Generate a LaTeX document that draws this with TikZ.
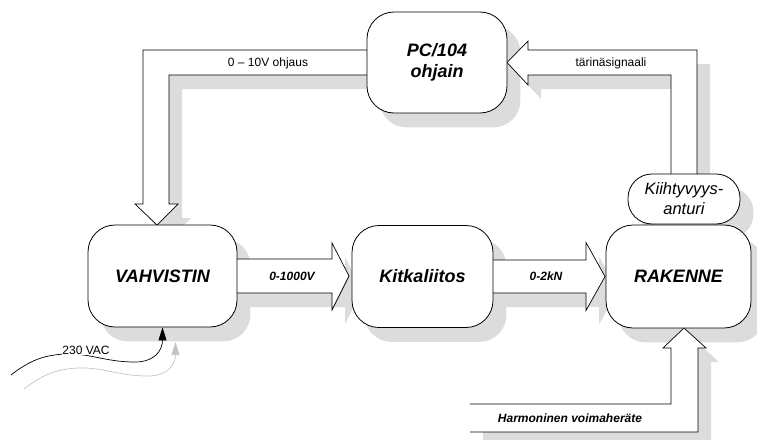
\documentclass[tikz,border=0pt]{standalone}
\usepackage{fontspec}
\setmainfont{Liberation Sans}
\usetikzlibrary{arrows.meta,calc}
\definecolor{shade}{HTML}{DCDCDC}
\definecolor{shadeline}{HTML}{C4C4C4}
\pgfdeclarelayer{bg}
\pgfdeclarelayer{arr}
\pgfsetlayers{bg,arr,main}
\begin{document}
\begin{tikzpicture}[x=1pt,y=-1pt,
  box/.style={draw=black,fill=white,line width=0.8pt,rounded corners=27pt,
    inner sep=0pt,align=center,font=\fontsize{18}{21}\selectfont\bfseries\itshape},
  sensor/.style={draw=black,fill=white,line width=0.8pt,rounded corners=24pt,
    inner sep=0pt,align=center,font=\fontsize{16.5}{20}\selectfont\itshape},
  blockarrow/.style={draw=black,fill=white,line width=0.7pt,line join=miter},
  shadowfill/.style={fill=shade},
  lbl/.style={inner sep=1pt,font=\fontsize{12}{14}\selectfont},
  blbl/.style={inner sep=1pt,font=\fontsize{12}{14}\selectfont\bfseries\itshape},
  feed/.style={line width=0.7pt,-{Triangle[length=13pt,width=8pt]}}
]
\useasboundingbox (0,0) rectangle (757,439);

% boxes
\node[box,minimum width=149pt,minimum height=102pt] (V) at (162.5,276) {VAHVISTIN};
\node[box,minimum width=141pt,minimum height=102pt] (K) at (422.5,276.5) {Kitkaliitos};
\node[box,minimum width=145pt,minimum height=103pt] (R) at (678.5,276.5) {RAKENNE};
\node[box,minimum width=140pt,minimum height=101pt] (P) at (437,62.5) {PC/104\\ohjain};
\node[sensor,minimum width=112pt,minimum height=50pt] (A) at (684,199) {Kiihtyvyys-\\anturi};

% shadows
\begin{pgfonlayer}{bg}
  \foreach \n/\r in {V/27,K/27,R/27,P/27,A/24}{
    \fill[shadowfill,rounded corners=\r pt] ($(\n.south west)+(13,14)$) rectangle ($(\n.north east)+(13,14)$);
  }
  \begin{scope}[shift={(13,14)}]
    \fill[shadowfill] (368,50) -- (143,50) -- (143,204) -- (135,204) -- (157,225) -- (178,204) -- (169,204) -- (169,75) -- (368,75) -- cycle;
    \fill[shadowfill] (671,175) -- (671,75) -- (528,75) -- (528,85) -- (507,62.5) -- (528,41) -- (528,50) -- (697,50) -- (697,175) -- cycle;
    \fill[shadowfill] (470,404) -- (671,404) -- (671,348) -- (663,348) -- (684,328) -- (706,348) -- (698,348) -- (698,432) -- (470,432) -- cycle;
    \fill[shadowfill] (236,259) -- (332,259) -- (332,243) -- (349,276) -- (332,310) -- (332,293) -- (236,293) -- cycle;
    \fill[shadowfill] (492,260) -- (586,260) -- (586,242.5) -- (605,276.5) -- (586,310.5) -- (586,293) -- (492,293) -- cycle;
    \draw[shadeline,line width=0.7pt,-{Triangle[length=13pt,width=8pt,fill=shadeline]}]
      (11,375) .. controls (30,360) and (45,355) .. (65,354) .. controls (90,353) and (105,362) .. (135,362) .. controls (155,362) and (162.5,350) .. (162.5,328);
  \end{scope}
\end{pgfonlayer}

% block arrows
\begin{pgfonlayer}{arr}
  \draw[blockarrow] (368,50) -- (143,50) -- (143,204) -- (135,204) -- (157,225) -- (178,204) -- (169,204) -- (169,75) -- (368,75) -- cycle;
  \draw[blockarrow] (671,175) -- (671,75) -- (528,75) -- (528,85) -- (507,62.5) -- (528,41) -- (528,50) -- (697,50) -- (697,175) -- cycle;
  \fill[white] (470,404) -- (671,404) -- (671,348) -- (663,348) -- (684,328) -- (706,348) -- (698,348) -- (698,432) -- (470,432) -- cycle;
  \draw[blockarrow,fill=none] (470,404) -- (671,404) -- (671,348) -- (663,348) -- (684,328) -- (706,348) -- (698,348) -- (698,432) -- (470,432);
  \draw[blockarrow] (236,259) -- (332,259) -- (332,243) -- (349,276) -- (332,310) -- (332,293) -- (236,293) -- cycle;
  \draw[blockarrow] (492,260) -- (586,260) -- (586,242.5) -- (605,276.5) -- (586,310.5) -- (586,293) -- (492,293) -- cycle;
\end{pgfonlayer}

% supply feed
\coordinate (s0) at (11,375);
\draw[feed] (s0) .. controls (30,360) and (45,355) .. (65,354) .. controls (90,353) and (105,362) .. (135,362) .. controls (155,362) and (162.5,350) .. (V.south);
\node[lbl,fill=white,inner sep=0.5pt] (vac) at (86,350) {230 VAC};

% labels
\node[lbl] (l1) at (268,63) {0 – 10V ohjaus};
\node[lbl] (l2) at (611,63) {tärinäsignaali};
\node[blbl] (l3) at (292,276) {0-1000V};
\node[blbl] (l4) at (546,276) {0-2kN};
\node[blbl] (l5) at (570,418) {Harmoninen voimaheräte};
\end{tikzpicture}
\end{document}
